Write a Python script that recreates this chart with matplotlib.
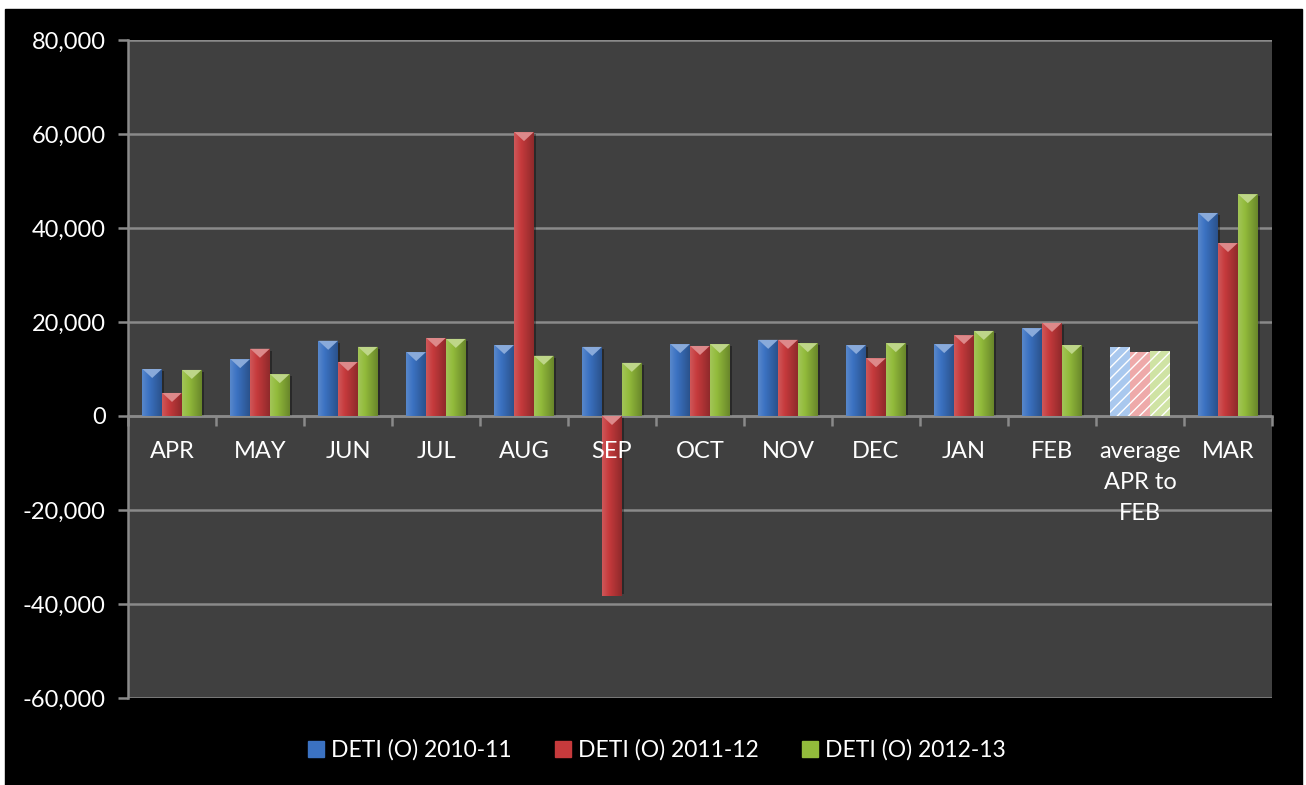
import numpy as np
import matplotlib
matplotlib.use('Agg')
from matplotlib import pyplot as plt
from matplotlib.patches import Rectangle, Polygon
from matplotlib.colors import to_rgb

plt.rcParams['font.family'] = ['Lato', 'DejaVu Sans']

# dados
meses = ['APR', 'MAY', 'JUN', 'JUL', 'AUG', 'SEP', 'OCT', 'NOV', 'DEC',
         'JAN', 'FEB', 'average\nAPR to\nFEB', 'MAR']
deti_2010 = [10000, 12100, 16000, 13600, 15100, 14700, 15300, 16200, 15100,
             15300, 18700, 14700, 43200]
deti_2011 = [4900, 14300, 11500, 16600, 60400, -38300, 14900, 16200, 12300,
             17200, 19800, 13600, 36800]
deti_2012 = [9800, 8900, 14700, 16400, 12800, 11300, 15300, 15500, 15500,
             18100, 15100, 13800, 47200]
series = ['DETI (O) 2010-11', 'DETI (O) 2011-12', 'DETI (O) 2012-13']
cores = ['#3b72c2', '#c63a3c', '#92bb3b']
cores_claras = ['#a9c8ee', '#eeaaaa', '#cfe3a4']
idx_media = 11

fig = plt.figure(figsize=(13.06, 7.85), dpi=100, facecolor='white')
fig.patches.append(Rectangle((5 / 1306, -0.01), 1297 / 1306, 776 / 785 + 0.01,
                             transform=fig.transFigure, color='black', zorder=-5))
ax = fig.add_axes([128 / 1306, 1 - 698 / 785, 1144 / 1306, 658 / 785])
ax.set_facecolor('#404040')

x = np.arange(len(meses))
w = 0.225
px = 140000 / 658  # unidades por pixel


def tom(c, f):
    r = np.array(to_rgb(c))
    return tuple(np.clip(r * f if f < 1 else r + (1 - r) * (f - 1), 0, 1))


for i, (vals, cor, clara) in enumerate(zip([deti_2010, deti_2011, deti_2012], cores, cores_claras)):
    pos = x + (i - 1) * w
    for j, (p, v) in enumerate(zip(pos, vals)):
        if j == idx_media:
            ax.bar(p, v, w * 0.98, color=clara, edgecolor='white', hatch='///',
                   linewidth=0, zorder=3)
            continue
        b = ax.bar(p, v, w * 0.98, color=cor, linewidth=0, zorder=3)[0]
        # sombra
        ax.add_patch(Rectangle((p - w / 2 + 0.025, 0), w, v - np.sign(v) * 2 * px,
                               color='black', alpha=0.35, zorder=2, linewidth=0))
        # gradiente horizontal
        grad = np.linspace(1.15, 0.72, 50)
        img = np.array([[tom(cor, g) for g in grad]])
        im = ax.imshow(img, extent=(p - w * 0.49, p + w * 0.49, 0, v), aspect='auto',
                       zorder=3.5, interpolation='bilinear')
        im.set_clip_path(b)
        # chanfro no topo
        h = 9 * px
        topo = 0 if v < 0 else v
        tri = Polygon([(p - w * 0.49, topo), (p + w * 0.49, topo), (p, topo - h)],
                      closed=True, facecolor=tom(cor, 1.4), edgecolor='none', zorder=4)
        ax.add_patch(tri)

ax.set_xlim(-0.5, len(meses) - 0.5)
ax.set_ylim(-60000, 80000)

ax.grid(axis='y', color='#8a8a8a', linewidth=1.8, zorder=1)
ax.set_axisbelow(True)
for s in ['top', 'right']:
    ax.spines[s].set_visible(False)
ax.spines['left'].set_color('#8a8a8a')
ax.spines['left'].set_linewidth(1.8)
ax.spines['bottom'].set_position(('data', 0))
ax.spines['bottom'].set_color('#8a8a8a')
ax.spines['bottom'].set_linewidth(1.8)

ax.set_yticks(np.arange(-60000, 80001, 20000))
ax.set_yticklabels([f'{v:,}' for v in range(-60000, 80001, 20000)])
ax.tick_params(axis='y', colors='#8a8a8a', labelcolor='white', labelsize=17,
               length=7, width=1.8, pad=9)

# rótulos do eixo x por cima das barras
ax.set_xticks(x)
ax.set_xticklabels([])
ax.set_xticks(np.arange(-0.5, len(meses), 1), minor=True)
ax.tick_params(axis='x', which='major', length=0)
ax.tick_params(axis='x', which='minor', length=7, width=1.8, color='#8a8a8a')
for xi, m in zip(x, meses):
    ax.annotate(m, (xi, 0), xytext=(0, -18), textcoords='offset points',
                ha='center', va='top', color='white', fontsize=17,
                linespacing=1.6, zorder=10)

handles = [Rectangle((0, 0), 1, 1, color=c) for c in cores]
leg = fig.legend(handles, series, loc='center', bbox_to_anchor=(657 / 1306, 1 - 750 / 785),
                 ncol=3, frameon=False, fontsize=16.5, labelcolor='white',
                 handlelength=0.7, handleheight=0.7, handletextpad=0.3, columnspacing=1.9)

fig.savefig('out.png', dpi=100, facecolor=fig.get_facecolor())
